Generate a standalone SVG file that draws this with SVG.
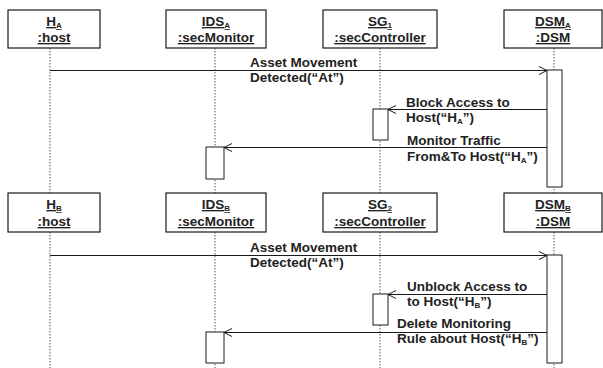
<svg xmlns="http://www.w3.org/2000/svg" width="603" height="368" viewBox="0 0 603 368">
<defs>
<style>
.box{fill:#fff;stroke:#1a1a1a;stroke-width:1.2}
.act{fill:#fff;stroke:#1a1a1a;stroke-width:1}
.life{stroke:#555;stroke-width:1;stroke-dasharray:1.5 1.5}
.msg{stroke:#1a1a1a;stroke-width:1;fill:none}
text{font-family:"Liberation Sans",Arial,sans-serif;font-weight:bold;fill:#222;font-size:13.5px}
.lbl{text-anchor:middle;text-decoration:underline}
.sub{font-size:8px}
</style>
<marker id="open" markerWidth="10" markerHeight="10" refX="9" refY="5" orient="auto" markerUnits="userSpaceOnUse">
<path d="M1,1 L9,5 L1,9" fill="none" stroke="#1a1a1a" stroke-width="1"/>
</marker>
</defs>
<rect width="603" height="368" fill="#fff"/>

<g id="lifelines">
<line class="life" x1="50" y1="48" x2="50" y2="193"/>
<line class="life" x1="215" y1="48" x2="215" y2="193"/>
<line class="life" x1="380" y1="48" x2="380" y2="193"/>
<line class="life" x1="554" y1="48" x2="554" y2="193"/>
<line class="life" x1="50" y1="232" x2="50" y2="368"/>
<line class="life" x1="215" y1="232" x2="215" y2="368"/>
<line class="life" x1="380" y1="232" x2="380" y2="368"/>
<line class="life" x1="554" y1="232" x2="554" y2="368"/>
</g>

<g id="HA"><rect class="box" x="8" y="10" width="92" height="38"/>
<text class="lbl" x="54" y="26">H<tspan class="sub" dy="2">A</tspan></text>
<text class="lbl" x="54" y="42">:host</text></g>
<g id="IDSA"><rect class="box" x="166" y="10" width="100" height="38"/>
<text class="lbl" x="216" y="26">IDS<tspan class="sub" dy="2">A</tspan></text>
<text class="lbl" x="216" y="42">:secMonitor</text></g>
<g id="SG1"><rect class="box" x="323" y="10" width="114" height="38"/>
<text class="lbl" x="380" y="26">SG<tspan class="sub" dy="2">1</tspan></text>
<text class="lbl" x="380" y="42">:secController</text></g>
<g id="DSMA"><rect class="box" x="504" y="10" width="98" height="38"/>
<text class="lbl" x="553" y="26">DSM<tspan class="sub" dy="2">A</tspan></text>
<text class="lbl" x="553" y="42">:DSM</text></g>

<g id="HB"><rect class="box" x="8" y="193" width="92" height="39"/>
<text class="lbl" x="54" y="209">H<tspan class="sub" dy="2">B</tspan></text>
<text class="lbl" x="54" y="226">:host</text></g>
<g id="IDSB"><rect class="box" x="166" y="193" width="100" height="39"/>
<text class="lbl" x="216" y="209">IDS<tspan class="sub" dy="2">B</tspan></text>
<text class="lbl" x="216" y="226">:secMonitor</text></g>
<g id="SG2"><rect class="box" x="323" y="193" width="114" height="39"/>
<text class="lbl" x="380" y="209">SG<tspan class="sub" dy="2">2</tspan></text>
<text class="lbl" x="380" y="226">:secController</text></g>
<g id="DSMB"><rect class="box" x="504" y="193" width="98" height="39"/>
<text class="lbl" x="553" y="209">DSM<tspan class="sub" dy="2">B</tspan></text>
<text class="lbl" x="553" y="226">:DSM</text></g>

<g id="activations">
<rect class="act" x="547" y="70" width="15" height="117"/>
<rect class="act" x="373" y="109" width="15" height="31"/>
<rect class="act" x="206" y="147" width="18" height="32"/>
<rect class="act" x="547" y="255" width="15" height="108"/>
<rect class="act" x="373" y="294" width="15" height="31"/>
<rect class="act" x="206" y="332" width="18" height="31"/>
</g>

<g id="connectors">
<line class="msg" x1="50" y1="70.5" x2="547" y2="70.5" marker-end="url(#open)"/>
<line class="msg" x1="547" y1="109.5" x2="388" y2="109.5" marker-end="url(#open)"/>
<line class="msg" x1="547" y1="147.5" x2="224" y2="147.5" marker-end="url(#open)"/>
<line class="msg" x1="50" y1="255.5" x2="547" y2="255.5" marker-end="url(#open)"/>
<line class="msg" x1="547" y1="294.5" x2="388" y2="294.5" marker-end="url(#open)"/>
<line class="msg" x1="547" y1="332.5" x2="224" y2="332.5" marker-end="url(#open)"/>
</g>

<g id="labels">
<text x="250" y="67">Asset Movement</text>
<text x="250" y="82">Detected(“At”)</text>
<text x="406" y="107">Block Access to</text>
<text x="406" y="122">Host(“H<tspan class="sub" dy="2">A</tspan><tspan dy="-2">”)</tspan></text>
<text x="407" y="145">Monitor Traffic</text>
<text x="407" y="161">From&amp;To Host(“H<tspan class="sub" dy="2">A</tspan><tspan dy="-2">”)</tspan></text>
<text x="250" y="252">Asset Movement</text>
<text x="250" y="267">Detected(“At”)</text>
<text x="407" y="291">Unblock Access to</text>
<text x="407" y="306">to Host(“H<tspan class="sub" dy="2">B</tspan><tspan dy="-2">”)</tspan></text>
<text x="397" y="328">Delete Monitoring</text>
<text x="397" y="343">Rule about Host(“H<tspan class="sub" dy="2">B</tspan><tspan dy="-2">”)</tspan></text>
</g>
</svg>
